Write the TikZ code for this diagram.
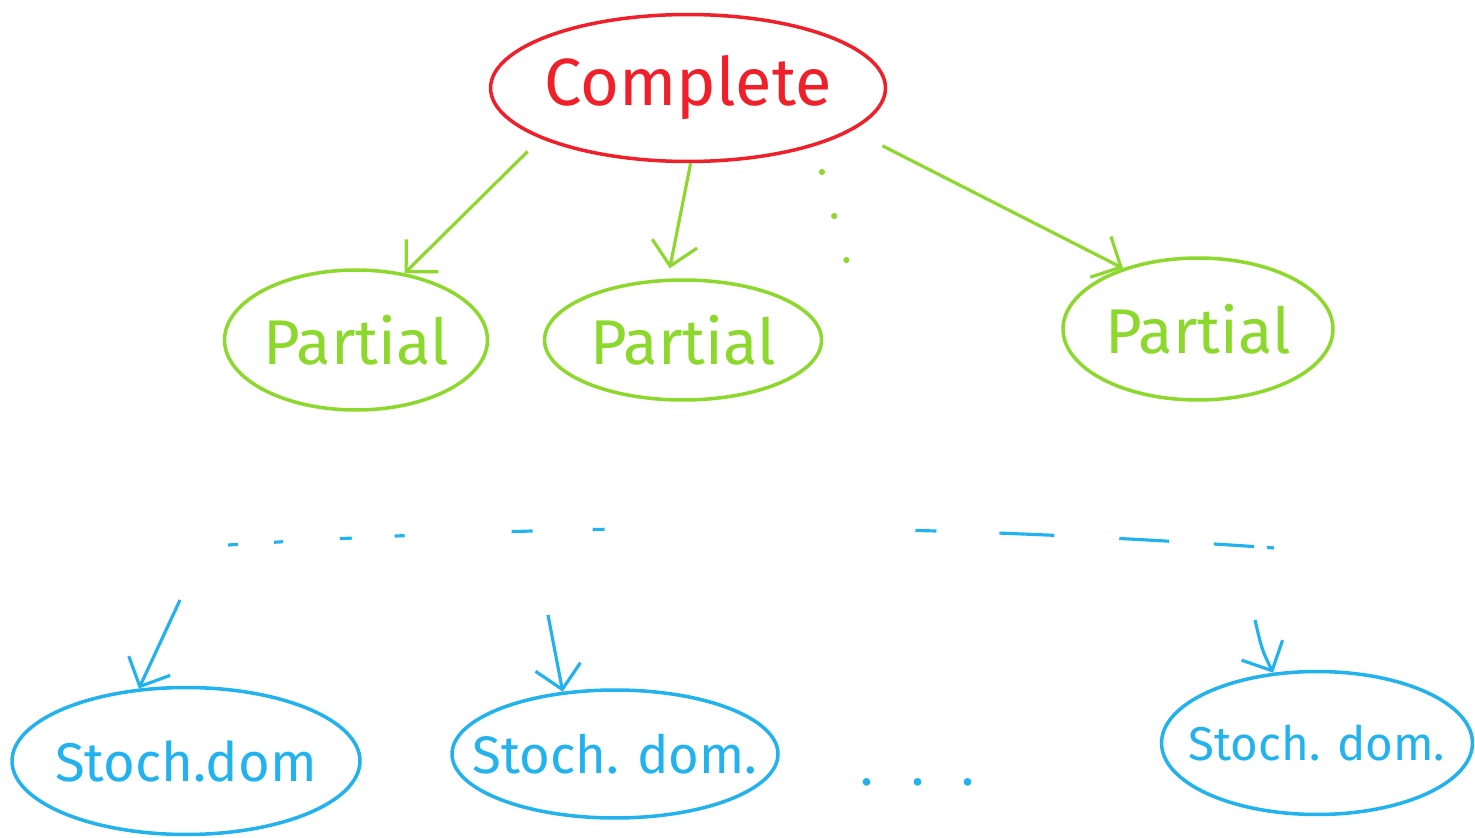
\documentclass[tikz,border=0pt]{standalone}
\usepackage{fontspec}
\setmainfont{Fira Sans}
\usepackage{tikz}
\usetikzlibrary{arrows.meta,positioning,shapes.geometric}
\definecolor{crimson}{HTML}{F0202A}
\definecolor{lime}{HTML}{8CD82C}
\definecolor{sky}{HTML}{22B2EE}
\newcommand{\flatlabel}[1]{\makebox[0pt]{#1}}
\tikzset{
  blob/.style={
    ellipse, draw=#1, line width=2pt, inner sep=0pt,
    text=#1
  },
  blob/.default=crimson,
  linkarrow/.style={
    -{Straight Barb[length=13pt, width=26pt]}, line width=1.8pt, color=#1
  },
  linkarrow/.default=lime,
}

\begin{document}
\begin{tikzpicture}[x=0.02cm, y=-0.02cm]
  \useasboundingbox (0,0) rectangle (1475,838);

  % Top node
  \node[blob=crimson, minimum width=7.9cm, minimum height=2.94cm,
        font=\fontsize{38}{44}\selectfont] (complete) at (688,88)
    {\flatlabel{Complete}};

  % Partial level
  \node[blob=lime, minimum width=5.26cm, minimum height=2.8cm,
        font=\fontsize{36}{42}\selectfont] (partA) at (356,340)
    {\flatlabel{Partial}};
  \node[blob=lime, minimum width=5.54cm, minimum height=2.4cm,
        font=\fontsize{36}{42}\selectfont] (partB) at (683,340)
    {\flatlabel{Partial}};
  \node[blob=lime, minimum width=5.4cm, minimum height=2.84cm,
        font=\fontsize{36}{42}\selectfont] (partC) at (1198,329)
    {\flatlabel{Partial}};

  % Stochastic domains
  \node[blob=sky, minimum width=6.96cm, minimum height=2.94cm,
        font=\fontsize{31}{37}\selectfont] (stochA) at (186,761)
    {\flatlabel{Stoch.dom}};
  \node[blob=sky, minimum width=6.52cm, minimum height=2.56cm,
        font=\fontsize{30}{36}\selectfont] (stochB) at (615,754)
    {\flatlabel{Stoch. dom.}};
  \node[blob=sky, minimum width=6.22cm, minimum height=2.86cm,
        font=\fontsize{27}{33}\selectfont] (stochC) at (1317,743)
    {\flatlabel{Stoch. dom.}};
  \node[text=sky, font=\fontsize{31}{37}\selectfont] (dots) at (918,782)
    {.\hspace{0.75cm}.\hspace{0.75cm}.};

  % Arrows to partials
  \draw[linkarrow] (complete.205) ++(-35,5) -- (partA.54);
  \draw[linkarrow, shorten >=6pt] (complete.272) -- (partB.104);
  \draw[linkarrow] (complete.350) ++(14,26) -- (partC.141);

  % Dotted continuation
  \coordinate (dotA) at (822,172);
  \coordinate (dotB) at (848,266);
  \draw[lime, line width=3.5pt, line cap=round, dash pattern=on 0pt off 26pt]
    (dotA) -- (dotB);

  % Dashed level line
  \coordinate (levelL) at (228,545);
  \coordinate (levelR) at (1275,548);
  \draw[sky, line width=1.8pt,
        dash pattern=on 0.2cm off 0.72cm on 0.18cm off 1.14cm on 0.24cm off 0.86cm
                     on 0.2cm off 2.14cm on 0.42cm off 1.2cm on 0.24cm off 6.22cm
                     on 0.42cm off 1.26cm on 1.1cm off 1.3cm on 1.0cm off 0.9cm
                     on 0.8cm off 0.26cm on 0.14cm off 0.2cm]
    (levelL) .. controls (600,522) and (900,522) .. (levelR);

  % Arrows to stochastic domains
  \coordinate (inA) at (180,600);
  \coordinate (inB) at (548,615);
  \coordinate (inC) at (1255,620);
  \draw[linkarrow=sky] (inA) -- (stochA.123);
  \draw[linkarrow=sky] (inB) -- (stochB.130);
  \draw[linkarrow=sky] (inC) .. controls (1262,650) .. (stochC.122);
\end{tikzpicture}
\end{document}
